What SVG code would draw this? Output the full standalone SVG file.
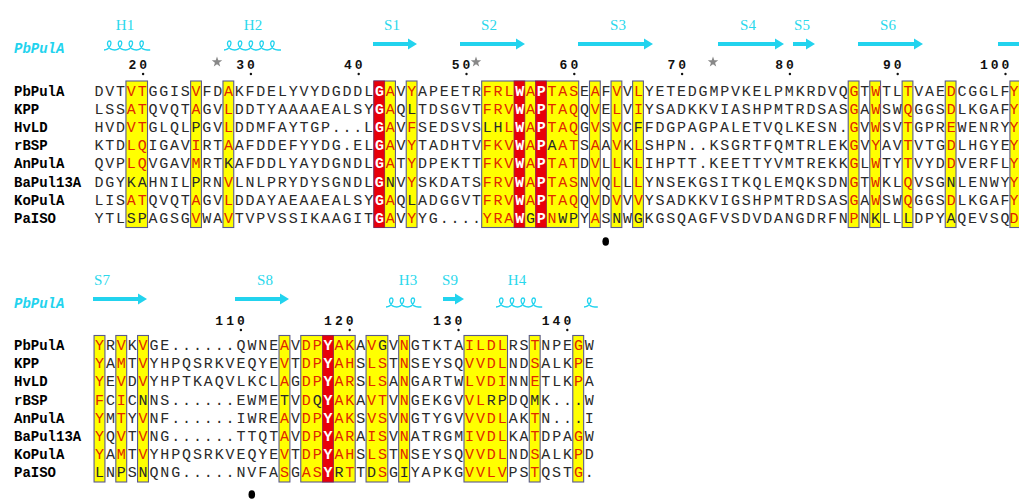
<svg xmlns="http://www.w3.org/2000/svg" width="1019" height="499" viewBox="0 0 1019 499">
<style>
.sq{font-family:"Liberation Mono",monospace;font-size:15px;fill:#2a2a2a}
.t{letter-spacing:1.78px}
.b{letter-spacing:1.88px}
.r{fill:#e02800}
.w{fill:#fff;font-weight:bold}
.e{text-anchor:middle;letter-spacing:0}
.nm{font-family:"Liberation Mono",monospace;font-size:14px;font-weight:bold;fill:#000}
.cn{font-family:"Liberation Mono",monospace;font-size:14px;font-weight:bold;font-style:italic;fill:#22d3ee}
.num{font-family:"Liberation Mono",monospace;font-size:13px;font-weight:bold;fill:#111}
.ss{font-family:"Liberation Serif",serif;font-size:15px;fill:#2ad8ec;text-anchor:middle}
.cy{fill:#22d3ee}
.fr{fill:#ffff00;stroke:#5a5a8c;stroke-width:1.1}
.rd{fill:#e8000a;stroke:#8a2050;stroke-width:0.8}
.hx{fill:none;stroke:#22d3ee;stroke-width:1.3}
.st{fill:#888}
</style>
<defs>
<polygon id="star" points="0,-5.5 1.29,-1.78 5.23,-1.7 2.09,0.68 3.23,4.45 0,2.2 -3.23,4.45 -2.09,0.68 -5.23,-1.7 -1.29,-1.78"/>
</defs>

<g id="block1-secondary">
<text class="ss" x="125" y="30">H1</text>
<text class="ss" x="253" y="30">H2</text>
<text class="ss" x="392" y="30">S1</text>
<text class="ss" x="489" y="30">S2</text>
<text class="ss" x="618" y="30">S3</text>
<text class="ss" x="748" y="30">S4</text>
<text class="ss" x="802" y="30">S5</text>
<text class="ss" x="888" y="30">S6</text>
<text class="cn" x="14" y="53">PbPulA</text>
<path class="hx" d="M104,50 c6,0 9,-9 5.4,-9 c-3.6,0 -2.2,9 5.4,9 c6,0 9,-9 5.4,-9 c-3.6,0 -2.2,9 5.4,9 c6,0 9,-9 5.4,-9 c-3.6,0 -2.2,9 5.4,9 c6,0 9,-9 5.4,-9 c-3.6,0 -2.2,9 5.4,9 l3,0"/>
<path class="hx" d="M224,50 c6,0 9,-9 5.4,-9 c-3.6,0 -2.2,9 5.4,9 c6,0 9,-9 5.4,-9 c-3.6,0 -2.2,9 5.4,9 c6,0 9,-9 5.4,-9 c-3.6,0 -2.2,9 5.4,9 c6,0 9,-9 5.4,-9 c-3.6,0 -2.2,9 5.4,9 c6,0 9,-9 5.4,-9 c-3.6,0 -2.2,9 5.4,9 l3,0"/>
<polygon class="cy" points="373,42 408,42 408,38.5 417,44 408,49.5 408,46 373,46"/>
<polygon class="cy" points="460,42 516,42 516,38.5 525,44 516,49.5 516,46 460,46"/>
<polygon class="cy" points="578,42 644,42 644,38.5 653,44 644,49.5 644,46 578,46"/>
<polygon class="cy" points="718,42 775,42 775,38.5 784,44 775,49.5 775,46 718,46"/>
<polygon class="cy" points="793,42 806,42 806,38.5 815,44 806,49.5 806,46 793,46"/>
<polygon class="cy" points="858,42 914,42 914,38.5 923,44 914,49.5 914,46 858,46"/>
<rect class="cy" x="998" y="42" width="22" height="4"/>
<use href="#star" class="st" x="217" y="62"/>
<use href="#star" class="st" x="476" y="62"/>
<use href="#star" class="st" x="713" y="62"/>
</g>

<g id="block1-numbers" class="num">
<text x="128.4 139.2" y="69">20</text>
<text x="236.2 247.0" y="69">30</text>
<text x="344.0 354.8" y="69">40</text>
<text x="451.8 462.6" y="69">50</text>
<text x="559.6 570.4" y="69">60</text>
<text x="667.4 678.2" y="69">70</text>
<text x="775.2 786.0" y="69">80</text>
<text x="883.0 893.8" y="69">90</text>
<text x="980.0 990.8 1001.6" y="69">100</text>
<circle cx="143.1" cy="74" r="1.2"/><circle cx="250.9" cy="74" r="1.2"/><circle cx="358.7" cy="74" r="1.2"/><circle cx="466.5" cy="74" r="1.2"/><circle cx="574.3" cy="74" r="1.2"/><circle cx="682.1" cy="74" r="1.2"/><circle cx="789.9" cy="74" r="1.2"/><circle cx="897.7" cy="74" r="1.2"/><circle cx="1005.5" cy="74" r="1.2"/>
</g>

<g id="block1-frames">
<rect class="fr" x="125.95" y="81" width="21.56" height="146.5"/>
<rect class="fr" x="190.63" y="81" width="10.78" height="146.5"/>
<rect class="fr" x="222.97" y="81" width="10.78" height="146.5"/>
<rect class="fr" x="373.89" y="81" width="21.56" height="146.5"/>
<rect class="rd" x="373.89" y="81" width="10.78" height="146.5"/>
<rect class="fr" x="406.23" y="81" width="10.78" height="146.5"/>
<rect class="fr" x="481.69" y="81" width="97.02" height="146.5"/>
<rect class="rd" x="514.03" y="81" width="10.78" height="146.5"/>
<rect class="rd" x="535.59" y="81" width="10.78" height="146.5"/>
<rect class="fr" x="589.49" y="81" width="10.78" height="146.5"/>
<rect class="fr" x="611.05" y="81" width="10.78" height="146.5"/>
<rect class="fr" x="632.61" y="81" width="10.78" height="146.5"/>
<rect class="fr" x="848.21" y="81" width="10.78" height="146.5"/>
<rect class="fr" x="869.77" y="81" width="10.78" height="146.5"/>
<rect class="fr" x="902.11" y="81" width="10.78" height="146.5"/>
<rect class="fr" x="945.23" y="81" width="10.78" height="146.5"/>
<rect class="fr" x="1009.91" y="81" width="10.78" height="146.5"/>
</g>

<g id="block1-names" class="nm">
<text x="14" y="95.5">PbPulA</text>
<text x="14" y="113.7">KPP</text>
<text x="14" y="131.9">HvLD</text>
<text x="14" y="150.1">rBSP</text>
<text x="14" y="168.3">AnPulA</text>
<text x="14" y="186.5">BaPul13A</text>
<text x="14" y="204.7">KoPulA</text>
<text x="14" y="222.9">PaISO</text>
</g>

<g id="block1-sequences" class="sq t">
<text x="94.5" y="95.5">DVT<tspan class="r">VT</tspan>GGIS<tspan class="r">V</tspan>FD<tspan class="r">A</tspan>KFDELYVYDGDDL<tspan class="w">G</tspan><tspan class="r">A</tspan>V<tspan class="r">Y</tspan>APEETR<tspan class="r">FRL</tspan><tspan class="w">W</tspan><tspan class="r">A</tspan><tspan class="w">P</tspan><tspan class="r">TAS</tspan>E<tspan class="r">A</tspan>F<tspan class="r">V</tspan>V<tspan class="r">L</tspan>YETEDGMPVKELPMKRDVQ<tspan class="r">G</tspan>T<tspan class="r">W</tspan>TL<tspan class="r">T</tspan>VAE<tspan class="r">D</tspan>CGGLF</text>
<text x="94.5" y="113.7">LSS<tspan class="r">AT</tspan>QVQT<tspan class="r">A</tspan>GV<tspan class="r">L</tspan>DDTYAAAAEALSY<tspan class="w">G</tspan><tspan class="r">A</tspan>QLTDSGVT<tspan class="r">FRV</tspan><tspan class="w">W</tspan><tspan class="r">A</tspan><tspan class="w">P</tspan><tspan class="r">TAQ</tspan>Q<tspan class="r">V</tspan>E<tspan class="r">L</tspan>V<tspan class="r">I</tspan>YSADKKVIASHPMTRDSAS<tspan class="r">G</tspan>A<tspan class="r">W</tspan>SW<tspan class="r">Q</tspan>GGS<tspan class="r">D</tspan>LKGAF</text>
<text x="94.5" y="131.9">HVD<tspan class="r">VT</tspan>GLQLPGV<tspan class="r">L</tspan>DDMFAYTGP...L<tspan class="w">G</tspan><tspan class="r">A</tspan>V<tspan class="r">F</tspan>SEDSVSLH<tspan class="r">L</tspan><tspan class="w">W</tspan><tspan class="r">A</tspan><tspan class="w">P</tspan><tspan class="r">TAQ</tspan>G<tspan class="r">V</tspan>S<tspan class="r">V</tspan>CFFDGPAGPALETVQLKESN.<tspan class="r">G</tspan>V<tspan class="r">W</tspan>SV<tspan class="r">T</tspan>GPR<tspan class="r">E</tspan>WENRY</text>
<text x="94.5" y="150.1">KTD<tspan class="r">LQ</tspan>IGAV<tspan class="r">I</tspan>RT<tspan class="r">A</tspan>AFDDEFYYDG.EL<tspan class="w">G</tspan><tspan class="r">A</tspan>V<tspan class="r">Y</tspan>TADHTV<tspan class="r">FKV</tspan><tspan class="w">W</tspan><tspan class="r">A</tspan><tspan class="w">P</tspan>A<tspan class="r">AT</tspan>S<tspan class="r">A</tspan>A<tspan class="r">V</tspan>K<tspan class="r">L</tspan>SHPN..KSGRTFQMTRLEK<tspan class="r">G</tspan>V<tspan class="r">Y</tspan>AV<tspan class="r">T</tspan>VTG<tspan class="r">D</tspan>LHGYE</text>
<text x="94.5" y="168.3">QVP<tspan class="r">LQ</tspan>VGAV<tspan class="r">M</tspan>RTKAFDDLYAYDGNDL<tspan class="w">G</tspan><tspan class="r">A</tspan>T<tspan class="r">Y</tspan>DPEKTT<tspan class="r">FKV</tspan><tspan class="w">W</tspan><tspan class="r">A</tspan><tspan class="w">P</tspan><tspan class="r">TAT</tspan>D<tspan class="r">V</tspan>L<tspan class="r">L</tspan>K<tspan class="r">L</tspan>IHPTT.KEETTYVMTREKK<tspan class="r">G</tspan>L<tspan class="r">W</tspan>TY<tspan class="r">T</tspan>VYD<tspan class="r">D</tspan>VERFL</text>
<text x="94.5" y="186.5">DGYKAHNILPRN<tspan class="r">V</tspan>LNLPRYDYSGNDL<tspan class="w">G</tspan>NV<tspan class="r">Y</tspan>SKDATS<tspan class="r">FRV</tspan><tspan class="w">W</tspan><tspan class="r">A</tspan><tspan class="w">P</tspan><tspan class="r">TAS</tspan>N<tspan class="r">V</tspan>Q<tspan class="r">L</tspan>L<tspan class="r">L</tspan>YNSEKGSITKQLEMQKSDN<tspan class="r">G</tspan>T<tspan class="r">W</tspan>KL<tspan class="r">Q</tspan>VSGNLENWY</text>
<text x="94.5" y="204.7">LIS<tspan class="r">AT</tspan>QVQT<tspan class="r">A</tspan>GV<tspan class="r">L</tspan>DDAYAEAAEALSY<tspan class="w">G</tspan><tspan class="r">A</tspan>QLADGGVT<tspan class="r">FRV</tspan><tspan class="w">W</tspan><tspan class="r">A</tspan><tspan class="w">P</tspan><tspan class="r">TAQ</tspan>Q<tspan class="r">V</tspan>D<tspan class="r">V</tspan>V<tspan class="r">V</tspan>YSADKKVIGSHPMTRDSAS<tspan class="r">G</tspan>A<tspan class="r">W</tspan>SW<tspan class="r">Q</tspan>GGS<tspan class="r">D</tspan>LKGAF</text>
<text x="94.5" y="222.9">YTLSPAGSG<tspan class="r">V</tspan>WA<tspan class="r">V</tspan>TVPVSSIKAAGIT<tspan class="w">G</tspan><tspan class="r">A</tspan>V<tspan class="r">Y</tspan>YG....<tspan class="r">YRA</tspan><tspan class="w">W</tspan>G<tspan class="w">P</tspan><tspan class="r">N</tspan>WPY<tspan class="r">A</tspan>SNWGKGSQAGFVSDVDANGDRFN<tspan class="r">P</tspan>NKLLLDPYAQEVSQ</text>
<text class="r e" x="1014" y="95.5">Y</text>
<text class="r e" x="1014" y="113.7">Y</text>
<text class="r e" x="1014" y="131.9">Y</text>
<text class="r e" x="1014" y="150.1">Y</text>
<text class="r e" x="1014" y="168.3">Y</text>
<text class="r e" x="1014" y="186.5">Y</text>
<text class="r e" x="1014" y="204.7">Y</text>
<text class="r e" x="1014" y="222.9">D</text>
</g>
<ellipse id="marker1" cx="605.7" cy="241.5" rx="3.3" ry="4.3" fill="#000"/>

<g id="block2-secondary">
<text class="ss" x="102" y="285">S7</text>
<text class="ss" x="265" y="285">S8</text>
<text class="ss" x="408" y="285">H3</text>
<text class="ss" x="450" y="285">S9</text>
<text class="ss" x="517" y="285">H4</text>
<text class="cn" x="14" y="308">PbPulA</text>
<polygon class="cy" points="93,297 138,297 138,293.5 147,299 138,304.5 138,301 93,301"/>
<polygon class="cy" points="235,297 280,297 280,293.5 289,299 280,304.5 280,301 235,301"/>
<polygon class="cy" points="443,297 455,297 455,293.5 464,299 455,304.5 455,301 443,301"/>
<path class="hx" d="M386,307 c6,0 9,-9 5.4,-9 c-3.6,0 -2.2,9 5.4,9 c6,0 9,-9 5.4,-9 c-3.6,0 -2.2,9 5.4,9 c6,0 9,-9 5.4,-9 c-3.6,0 -2.2,9 5.4,9 l3,0"/>
<path class="hx" d="M496,307 c6,0 9,-9 5.4,-9 c-3.6,0 -2.2,9 5.4,9 c6,0 9,-9 5.4,-9 c-3.6,0 -2.2,9 5.4,9 c6,0 9,-9 5.4,-9 c-3.6,0 -2.2,9 5.4,9 c6,0 9,-9 5.4,-9 c-3.6,0 -2.2,9 5.4,9 l3,0"/>
<path class="hx" d="M584,307 c6,0 9,-9 5.4,-9 c-3.6,0 -2.2,9 5.4,9 l3,0"/>
</g>

<g id="block2-numbers" class="num">
<text x="215.3 226.2 237.0" y="325">110</text>
<text x="324.1 335.0 345.8" y="325">120</text>
<text x="432.9 443.8 454.6" y="325">130</text>
<text x="541.7 552.6 563.4" y="325">140</text>
<circle cx="240.9" cy="330" r="1.2"/><circle cx="349.7" cy="330" r="1.2"/><circle cx="458.5" cy="330" r="1.2"/><circle cx="567.3" cy="330" r="1.2"/>
</g>

<g id="block2-frames">
<rect class="fr" x="94.06" y="335.5" width="10.88" height="146.5"/>
<rect class="fr" x="115.82" y="335.5" width="10.88" height="146.5"/>
<rect class="fr" x="137.58" y="335.5" width="10.88" height="146.5"/>
<rect class="fr" x="279.02" y="335.5" width="10.88" height="146.5"/>
<rect class="fr" x="300.78" y="335.5" width="54.4" height="146.5"/>
<rect class="rd" x="322.54" y="335.5" width="10.88" height="146.5"/>
<rect class="fr" x="366.06" y="335.5" width="21.76" height="146.5"/>
<rect class="fr" x="398.7" y="335.5" width="10.88" height="146.5"/>
<rect class="fr" x="463.98" y="335.5" width="43.52" height="146.5"/>
<rect class="fr" x="529.26" y="335.5" width="10.88" height="146.5"/>
<rect class="fr" x="572.78" y="335.5" width="10.88" height="146.5"/>
</g>

<g id="block2-names" class="nm">
<text x="14" y="350">PbPulA</text>
<text x="14" y="368.2">KPP</text>
<text x="14" y="386.4">HvLD</text>
<text x="14" y="404.6">rBSP</text>
<text x="14" y="422.8">AnPulA</text>
<text x="14" y="441">BaPul13A</text>
<text x="14" y="459.2">KoPulA</text>
<text x="14" y="477.4">PaISO</text>
</g>

<g id="block2-sequences" class="sq b">
<text x="95" y="350"><tspan class="r">Y</tspan>R<tspan class="r">V</tspan>K<tspan class="r">V</tspan>GE......QWNE<tspan class="r">A</tspan>V<tspan class="r">DP</tspan><tspan class="w">Y</tspan><tspan class="r">AK</tspan>A<tspan class="r">V</tspan>GV<tspan class="r">N</tspan>GTKTA<tspan class="r">ILDL</tspan>RS<tspan class="r">T</tspan>NPE<tspan class="r">G</tspan>W</text>
<text x="95" y="368.2"><tspan class="r">Y</tspan>A<tspan class="r">M</tspan>T<tspan class="r">V</tspan>YHPQSRKVEQYE<tspan class="r">V</tspan>T<tspan class="r">DP</tspan><tspan class="w">Y</tspan><tspan class="r">AH</tspan>S<tspan class="r">LS</tspan>T<tspan class="r">N</tspan>SEYSQ<tspan class="r">VVDL</tspan>ND<tspan class="r">S</tspan>ALK<tspan class="r">P</tspan>E</text>
<text x="95" y="386.4"><tspan class="r">Y</tspan>E<tspan class="r">V</tspan>D<tspan class="r">V</tspan>YHPTKAQVLKCL<tspan class="r">A</tspan>G<tspan class="r">DP</tspan><tspan class="w">Y</tspan><tspan class="r">AR</tspan>S<tspan class="r">LS</tspan>A<tspan class="r">N</tspan>GARTW<tspan class="r">LVDI</tspan>NN<tspan class="r">E</tspan>TLK<tspan class="r">P</tspan>A</text>
<text x="95" y="404.6"><tspan class="r">F</tspan>C<tspan class="r">I</tspan>CNNS......EWMETV<tspan class="r">D</tspan>Q<tspan class="w">Y</tspan><tspan class="r">AK</tspan>A<tspan class="r">VT</tspan>V<tspan class="r">N</tspan>GEKGV<tspan class="r">VL</tspan>RPDQMK...W</text>
<text x="95" y="422.8"><tspan class="r">Y</tspan>M<tspan class="r">T</tspan>Y<tspan class="r">V</tspan>NF......IWRE<tspan class="r">A</tspan>V<tspan class="r">DP</tspan><tspan class="w">Y</tspan><tspan class="r">AK</tspan>S<tspan class="r">VS</tspan>V<tspan class="r">N</tspan>GTYGV<tspan class="r">VVDL</tspan>AK<tspan class="r">T</tspan>N...I</text>
<text x="95" y="441"><tspan class="r">Y</tspan>Q<tspan class="r">V</tspan>T<tspan class="r">V</tspan>NG......TTQT<tspan class="r">A</tspan>V<tspan class="r">DP</tspan><tspan class="w">Y</tspan><tspan class="r">AR</tspan>A<tspan class="r">IS</tspan>V<tspan class="r">N</tspan>ATRGM<tspan class="r">IVDL</tspan>KA<tspan class="r">T</tspan>DPA<tspan class="r">G</tspan>W</text>
<text x="95" y="459.2"><tspan class="r">Y</tspan>A<tspan class="r">M</tspan>T<tspan class="r">V</tspan>YHPQSRKVEQYE<tspan class="r">V</tspan>T<tspan class="r">DP</tspan><tspan class="w">Y</tspan><tspan class="r">AH</tspan>S<tspan class="r">LS</tspan>T<tspan class="r">N</tspan>SEYSQ<tspan class="r">VVDL</tspan>ND<tspan class="r">S</tspan>ALK<tspan class="r">P</tspan>D</text>
<text x="95" y="477.4">LNPSNQNG.....NVFA<tspan class="r">S</tspan>G<tspan class="r">AS</tspan><tspan class="w">Y</tspan>R<tspan class="r">T</tspan>TD<tspan class="r">S</tspan>GIYAPKG<tspan class="r">VVLV</tspan>PS<tspan class="r">T</tspan>QST<tspan class="r">G</tspan>.</text>
</g>
<ellipse id="marker2" cx="251.8" cy="494.5" rx="3.3" ry="4.3" fill="#000"/>
</svg>
